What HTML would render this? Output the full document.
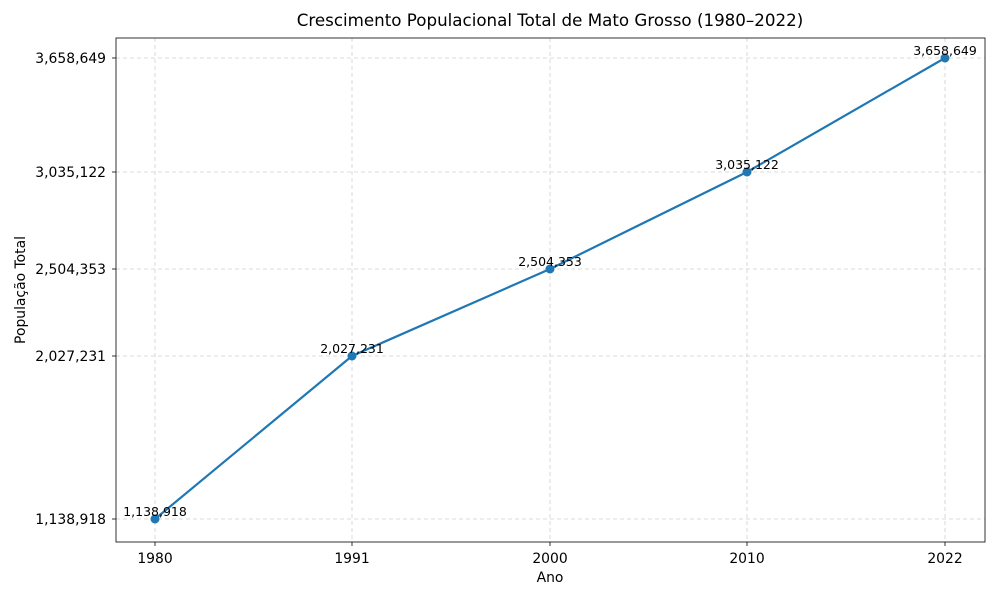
<!DOCTYPE html>
<html><head><meta charset="utf-8"><style>
body{margin:0;background:#fff;}
svg{display:block;font-family:"DejaVu Sans","Liberation Sans",sans-serif;}
</style></head><body>
<svg width="1000" height="600" viewBox="0 0 1000 600">
<rect width="1000" height="600" fill="#fff"/>
<text x="550" y="26" text-anchor="middle" font-size="16.7">Crescimento Populacional Total de Mato Grosso (1980–2022)</text>
<g stroke="#b0b0b0" stroke-width="0.8" stroke-dasharray="4,3" opacity="0.6">
<line x1="155" y1="38" x2="155" y2="542"/><line x1="352" y1="38" x2="352" y2="542"/><line x1="550" y1="38" x2="550" y2="542"/><line x1="747" y1="38" x2="747" y2="542"/><line x1="945" y1="38" x2="945" y2="542"/>
<line x1="116" y1="519" x2="985" y2="519"/><line x1="116" y1="356" x2="985" y2="356"/><line x1="116" y1="269" x2="985" y2="269"/><line x1="116" y1="172" x2="985" y2="172"/><line x1="116" y1="58" x2="985" y2="58"/>
</g>
<rect x="116" y="38" width="869" height="504" fill="none" stroke="#000" stroke-width="0.8"/>
<g stroke="#000" stroke-width="0.8">
<line x1="155" y1="542" x2="155" y2="546"/><line x1="352" y1="542" x2="352" y2="546"/><line x1="550" y1="542" x2="550" y2="546"/><line x1="747" y1="542" x2="747" y2="546"/><line x1="945" y1="542" x2="945" y2="546"/>
<line x1="112" y1="519" x2="116" y2="519"/><line x1="112" y1="356" x2="116" y2="356"/><line x1="112" y1="269" x2="116" y2="269"/><line x1="112" y1="172" x2="116" y2="172"/><line x1="112" y1="58" x2="116" y2="58"/>
</g>
<g font-size="13.9" text-anchor="middle">
<text x="155" y="563">1980</text><text x="352" y="563">1991</text><text x="550" y="563">2000</text><text x="747" y="563">2010</text><text x="945" y="563">2022</text>
<text x="550" y="582">Ano</text>
</g>
<g font-size="13.9" text-anchor="end">
<text x="106" y="524">1,138,918</text><text x="106" y="361">2,027,231</text><text x="106" y="274">2,504,353</text><text x="106" y="177">3,035,122</text><text x="106" y="63">3,658,649</text>
</g>
<text transform="translate(25,290) rotate(-90)" font-size="13.9" text-anchor="middle">População Total</text>
<polyline points="155,519 352,356 550,269 747,172 945,58" fill="none" stroke="#1f77b4" stroke-width="2.2"/>
<g fill="#1f77b4"><circle cx="155" cy="519" r="4.5"/><circle cx="352" cy="356" r="4.5"/><circle cx="550" cy="269" r="4.5"/><circle cx="747" cy="172" r="4.5"/><circle cx="945" cy="58" r="4.5"/></g>
<g font-size="12.5" text-anchor="middle">
<text x="155" y="516">1,138,918</text><text x="352" y="353">2,027,231</text><text x="550" y="266">2,504,353</text><text x="747" y="169">3,035,122</text><text x="945" y="55">3,658,649</text>
</g>
</svg>
</body></html>
